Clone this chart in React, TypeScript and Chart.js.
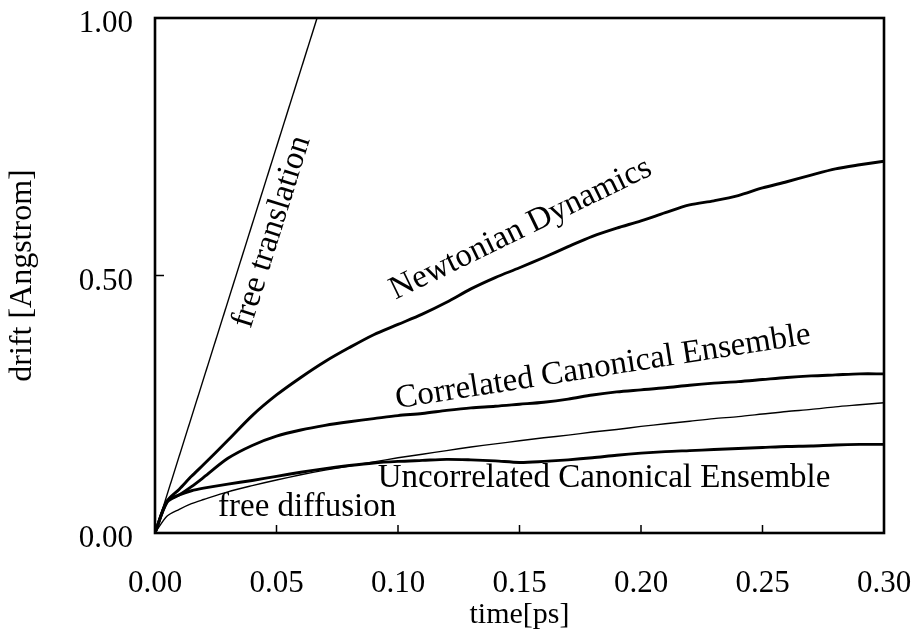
import React, { useEffect, useRef } from "react";
import { Chart, registerables } from "chart.js";

Chart.register(...registerables);

// time axis [ps]
const timePs = [
  0, 0.005, 0.01, 0.015, 0.02, 0.03, 0.04, 0.05, 0.06, 0.07, 0.08, 0.09, 0.1,
  0.11, 0.12, 0.13, 0.14, 0.15, 0.16, 0.17, 0.18, 0.19, 0.2, 0.21, 0.22, 0.23,
  0.24, 0.25, 0.26, 0.27, 0.28, 0.29, 0.3,
];

// drift [Angstrom]
const newtonian = [
  0, 0.062, 0.085, 0.11, 0.133, 0.18, 0.228, 0.268, 0.302, 0.333, 0.36, 0.385,
  0.405, 0.425, 0.448, 0.474, 0.496, 0.515, 0.535, 0.556, 0.576, 0.592, 0.606,
  0.622, 0.637, 0.645, 0.655, 0.67, 0.682, 0.695, 0.707, 0.715, 0.722,
];

const correlated = [
  0, 0.06, 0.074, 0.09, 0.108, 0.145, 0.17, 0.188, 0.2, 0.209, 0.216, 0.222,
  0.228, 0.232, 0.238, 0.243, 0.246, 0.25, 0.254, 0.26, 0.268, 0.274, 0.278,
  0.282, 0.287, 0.291, 0.294, 0.298, 0.302, 0.305, 0.307, 0.309, 0.309,
];

const uncorrelated = [
  0, 0.062, 0.074, 0.082, 0.087, 0.095, 0.102, 0.11, 0.118, 0.125, 0.131,
  0.136, 0.139, 0.141, 0.143, 0.142, 0.14, 0.137, 0.139, 0.142, 0.146, 0.151,
  0.155, 0.158, 0.16, 0.162, 0.164, 0.166, 0.168, 0.169, 0.171, 0.172, 0.172,
];

const freeDiffusion = [
  0, 0.033, 0.046, 0.057, 0.065, 0.08, 0.092, 0.103, 0.113, 0.122, 0.13,
  0.138, 0.146, 0.153, 0.16, 0.167, 0.173, 0.179, 0.185, 0.19, 0.196, 0.201,
  0.207, 0.212, 0.217, 0.222, 0.226, 0.231, 0.236, 0.24, 0.245, 0.249, 0.253,
];

const freeTranslationTime = [0, 0.0667];
const freeTranslation = [0, 1.0];

const xTicks = [0, 0.05, 0.1, 0.15, 0.2, 0.25, 0.3];
const yTicks = [0, 0.5, 1.0];

const curveLabels = [
  { text: "free translation", x: 0.0481, y: 0.585, angle: -72.6 },
  { text: "Newtonian Dynamics", x: 0.1505, y: 0.59, angle: -26 },
  { text: "Correlated Canonical Ensemble", x: 0.1844, y: 0.322, angle: -8.9 },
  { text: "Uncorrelated Canonical Ensemble", x: 0.1848, y: 0.106, angle: 0 },
  { text: "free diffusion", x: 0.0626, y: 0.05, angle: 0 },
];

const FONT = "'Liberation Serif', 'Times New Roman', serif";

const toPoints = (xs: number[], ys: number[]) =>
  ys.map((y, i) => ({ x: xs[i], y }));

const framePlugin = {
  id: "framePlugin",
  afterDraw(chart: any) {
    const { ctx, chartArea } = chart;
    const { left, right, top, bottom } = chartArea;
    const xs = chart.scales.x;
    const ys = chart.scales.y;
    ctx.save();
    // curve labels
    ctx.fillStyle = "#000";
    ctx.font = `33px ${FONT}`;
    ctx.textAlign = "center";
    ctx.textBaseline = "middle";
    curveLabels.forEach((l) => {
      const px = xs.getPixelForValue(l.x);
      const py = ys.getPixelForValue(l.y);
      ctx.save();
      ctx.translate(px, py);
      ctx.rotate((l.angle * Math.PI) / 180);
      ctx.fillText(l.text, 0, 0);
      ctx.restore();
    });
    // inward ticks
    ctx.strokeStyle = "#000";
    ctx.lineWidth = 1.5;
    ctx.beginPath();
    xTicks.forEach((v) => {
      if (v === xTicks[0] || v === xTicks[xTicks.length - 1]) return;
      const px = xs.getPixelForValue(v);
      ctx.moveTo(px, bottom);
      ctx.lineTo(px, bottom - 8);
    });
    yTicks.forEach((v) => {
      if (v === yTicks[0] || v === yTicks[yTicks.length - 1]) return;
      const py = ys.getPixelForValue(v);
      ctx.moveTo(left, py);
      ctx.lineTo(left + 9, py);
    });
    ctx.stroke();
    // frame
    ctx.lineWidth = 2.6;
    ctx.strokeRect(left, top, right - left, bottom - top);
    ctx.restore();
  },
};

export default function App() {
  const ref = useRef<HTMLCanvasElement | null>(null);

  useEffect(() => {
    document.body.style.margin = "0";
    const canvas = ref.current;
    if (!canvas) return;
    const thick = { borderColor: "#000", borderWidth: 2.9, pointRadius: 0, tension: 0.3, fill: false };
    const thin = { borderColor: "#000", borderWidth: 1.4, pointRadius: 0, tension: 0.3, fill: false };
    const chart = new Chart(canvas, {
      type: "line",
      data: {
        datasets: [
          { label: "free translation", data: toPoints(freeTranslationTime, freeTranslation), ...thin, tension: 0 },
          { label: "Newtonian Dynamics", data: toPoints(timePs, newtonian), ...thick },
          { label: "Correlated Canonical Ensemble", data: toPoints(timePs, correlated), ...thick },
          { label: "Uncorrelated Canonical Ensemble", data: toPoints(timePs, uncorrelated), ...thick },
          { label: "free diffusion", data: toPoints(timePs, freeDiffusion), ...thin },
        ],
      },
      options: {
        responsive: false,
        animation: false,
        layout: { padding: { top: 18, right: 28, left: 0, bottom: 0 } },
        plugins: { legend: { display: false }, tooltip: { enabled: false } },
        scales: {
          x: {
            type: "linear",
            min: 0,
            max: 0.3,
            grid: { display: false, drawTicks: false },
            border: { display: false },
            afterBuildTicks: (s: any) => {
              s.ticks = xTicks.map((v) => ({ value: v }));
            },
            afterFit: (s: any) => {
              s.height = 102;
              s.paddingLeft = 0;
              s.paddingRight = 0;
            },
            ticks: {
              color: "#000",
              font: { family: FONT, size: 31 },
              padding: 32,
              maxRotation: 0,
              autoSkip: false,
              callback: (v: any) => Number(v).toFixed(2),
            },
            title: {
              display: true,
              text: "time[ps]",
              color: "#000",
              font: { family: FONT, size: 30 },
              padding: { top: 0, bottom: 2 },
            },
          },
          y: {
            type: "linear",
            min: 0,
            max: 1,
            grid: { display: false, drawTicks: false },
            border: { display: false },
            afterBuildTicks: (s: any) => {
              s.ticks = yTicks.map((v) => ({ value: v }));
            },
            afterFit: (s: any) => {
              s.width = 155;
              s.paddingTop = 0;
              s.paddingBottom = 0;
            },
            ticks: {
              color: "#000",
              font: { family: FONT, size: 31 },
              padding: 22,
              labelOffset: 6,
              autoSkip: false,
              callback: (v: any) => Number(v).toFixed(2),
            },
            title: {
              display: true,
              text: "drift [Angstrom]",
              color: "#000",
              font: { family: FONT, size: 32 },
              padding: { top: 3, bottom: 0 },
            },
          },
        },
      },
      plugins: [framePlugin],
    });
    return () => chart.destroy();
  }, []);

  return (
    <div style={{ width: 912, height: 635, background: "#fff" }}>
      <canvas ref={ref} width={912} height={635} style={{ display: "block" }} />
    </div>
  );
}
